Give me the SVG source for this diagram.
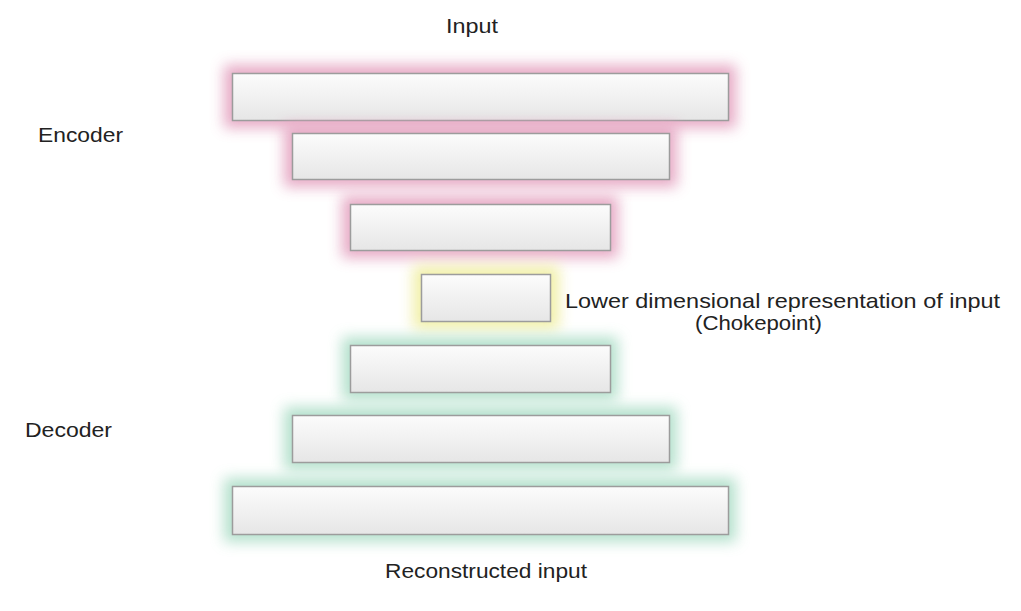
<svg xmlns="http://www.w3.org/2000/svg" width="1021" height="611" viewBox="0 0 1021 611">
<defs>
<linearGradient id="g" x1="0" y1="0" x2="0" y2="1">
<stop offset="0" stop-color="#fcfcfc"/>
<stop offset="1" stop-color="#e6e6e6"/>
</linearGradient>
<filter id="blur" x="-30%" y="-80%" width="160%" height="260%">
<feGaussianBlur stdDeviation="7"/>
</filter>
</defs>
<style>
.box{fill:url(#g);stroke:#9c9c9c;stroke-width:1.5}
.glow{filter:url(#blur)}
.enc{fill:#e4a2c0;opacity:0.9}
.mid{fill:#f0eea0;opacity:0.9}
.dec{fill:#a8dcc4;opacity:0.85}
text{font-family:"Liberation Sans",Arial,sans-serif;font-size:21px;fill:#222}
</style>
<rect width="1021" height="611" fill="#ffffff"/>
<g id="encoder1"><rect class="glow enc" x="224" y="65" width="512" height="63"/><rect class="box" x="232.5" y="73.5" width="496" height="47"/></g>
<g id="encoder2"><rect class="glow enc" x="284" y="125" width="393" height="62"/><rect class="box" x="292.5" y="133.5" width="377" height="46"/></g>
<g id="encoder3"><rect class="glow enc" x="342" y="196" width="276" height="62"/><rect class="box" x="350.5" y="204.5" width="260" height="46"/></g>
<g id="chokepoint"><rect class="glow mid" x="413" y="266" width="146" height="63"/><rect class="box" x="421.5" y="274.5" width="129" height="47"/></g>
<g id="decoder1"><rect class="glow dec" x="342" y="337" width="276" height="63"/><rect class="box" x="350.5" y="345.5" width="260" height="47"/></g>
<g id="decoder2"><rect class="glow dec" x="284" y="407" width="393" height="63"/><rect class="box" x="292.5" y="415.5" width="377" height="47"/></g>
<g id="decoder3"><rect class="glow dec" x="224" y="478" width="512" height="64"/><rect class="box" x="232.5" y="486.5" width="496" height="48"/></g>
<g id="connectors"></g>
<g id="labels">
<text x="446" y="33" textLength="52" lengthAdjust="spacingAndGlyphs">Input</text>
<text x="38" y="142" textLength="85" lengthAdjust="spacingAndGlyphs">Encoder</text>
<text x="25" y="437" textLength="87" lengthAdjust="spacingAndGlyphs">Decoder</text>
<text x="565" y="308" textLength="435" lengthAdjust="spacingAndGlyphs">Lower dimensional representation of input</text>
<text x="695" y="330" textLength="127" lengthAdjust="spacingAndGlyphs">(Chokepoint)</text>
<text x="385" y="578" textLength="202" lengthAdjust="spacingAndGlyphs">Reconstructed input</text>
</g>
</svg>
